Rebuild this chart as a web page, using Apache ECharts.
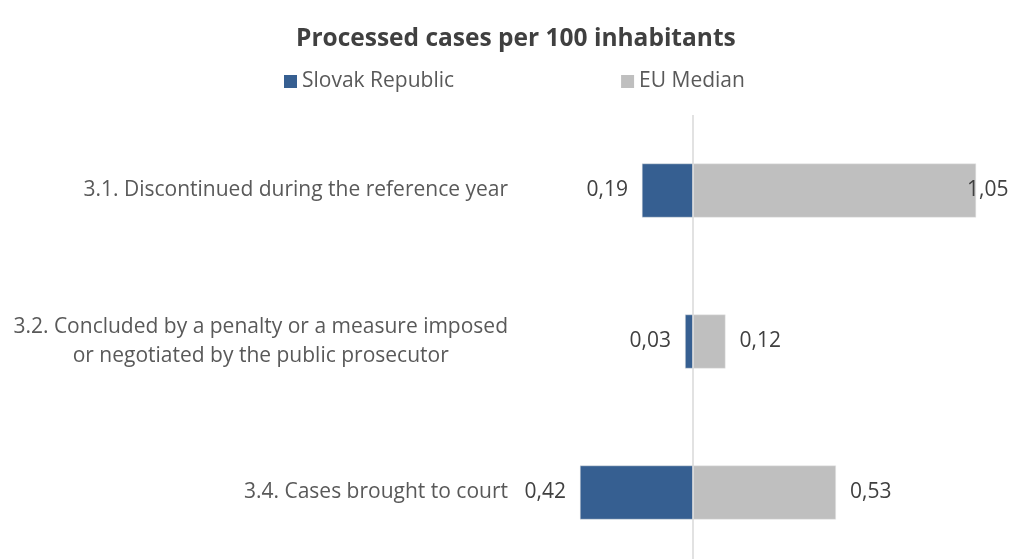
<!DOCTYPE html>
<html>
<head>
<meta charset="utf-8">
<script src="https://cdn.jsdelivr.net/npm/echarts@6/dist/echarts.min.js"></script>
<style>
  html, body { margin: 0; padding: 0; background: #ffffff; }
  #chart { width: 1015px; height: 559px; }
</style>
</head>
<body>
<div id="chart"></div>
<script>
// Indicator categories, top to bottom
const categories = [
  '3.1. Discontinued during the reference year',
  '3.2. Concluded by a penalty or a measure imposed\nor negotiated by the public prosecutor',
  '3.4. Cases brought to court'
];
// Processed cases per 100 inhabitants
const slovakValues = [0.19, 0.03, 0.42];
const euMedianValues = [1.05, 0.12, 0.53];
const seriesNames = ['Slovak Republic', 'EU Median'];

const FONT = '"Open Sans", sans-serif';
const fmt = v => Math.abs(v).toFixed(2).replace('.', ',');

const chart = echarts.init(document.getElementById('chart'));
chart.setOption({
  backgroundColor: '#ffffff',
  animation: false,
  title: {
    text: 'Processed cases per 100 inhabitants',
    left: 291,
    top: 22,
    textStyle: { fontFamily: FONT, fontSize: 24.5, fontWeight: 'bold', color: '#404040' }
  },
  legend: {
    data: seriesNames,
    left: 279,
    top: 66,
    icon: 'rect',
    itemWidth: 13,
    itemHeight: 13,
    itemGap: 167,
    itemStyle: { borderWidth: 0 },
    textStyle: { fontFamily: FONT, fontSize: 21, color: '#595959', padding: [0, 0, 0, 0] }
  },
  grid: { left: 518, top: 115, width: 485, height: 453, outerBoundsMode: 'none', containLabel: false },
  xAxis: {
    type: 'value',
    min: -0.65,
    max: 1.15,
    show: false
  },
  yAxis: {
    type: 'category',
    data: categories,
    inverse: true,
    axisLine: { show: false },
    axisTick: { show: false },
    axisLabel: {
      margin: 10,
      fontFamily: FONT,
      fontSize: 21,
      lineHeight: 29,
      color: '#595959',
      formatter: v => v.split('\n').map(s => '{c|' + s + '}').join('\n'),
      rich: { c: { align: 'center', fontFamily: FONT, fontSize: 21, lineHeight: 29, color: '#595959' } }
    }
  },
  series: [
    {
      name: seriesNames[0],
      type: 'bar',
      barWidth: 54,
      barGap: '-100%',
      itemStyle: { color: '#365F91', borderColor: '#E6E6E6', borderWidth: 0.5 },
      label: {
        show: true,
        position: 'left',
        distance: 14,
        fontFamily: FONT,
        fontSize: 21,
        color: '#404040',
        formatter: p => fmt(p.value)
      },
      data: slovakValues.map(v => -v),
      markLine: {
        silent: true,
        symbol: 'none',
        label: { show: false },
        lineStyle: { color: '#D9D9D9', width: 1.5, type: 'solid' },
        data: [{ xAxis: 0 }]
      },
      z: 3
    },
    {
      name: seriesNames[1],
      type: 'bar',
      barWidth: 54,
      itemStyle: { color: '#BFBFBF', borderColor: '#E6E6E6', borderWidth: 0.5 },
      label: {
        show: true,
        position: 'right',
        fontFamily: FONT,
        fontSize: 21,
        color: '#404040',
        formatter: p => fmt(p.value)
      },
      // labels that would run past the plot edge sit over the bar end
      data: euMedianValues.map(v => ({ value: v, label: { distance: v > 1 ? -9 : 14 } })),
      z: 2
    }
  ]
});
</script>
</body>
</html>
